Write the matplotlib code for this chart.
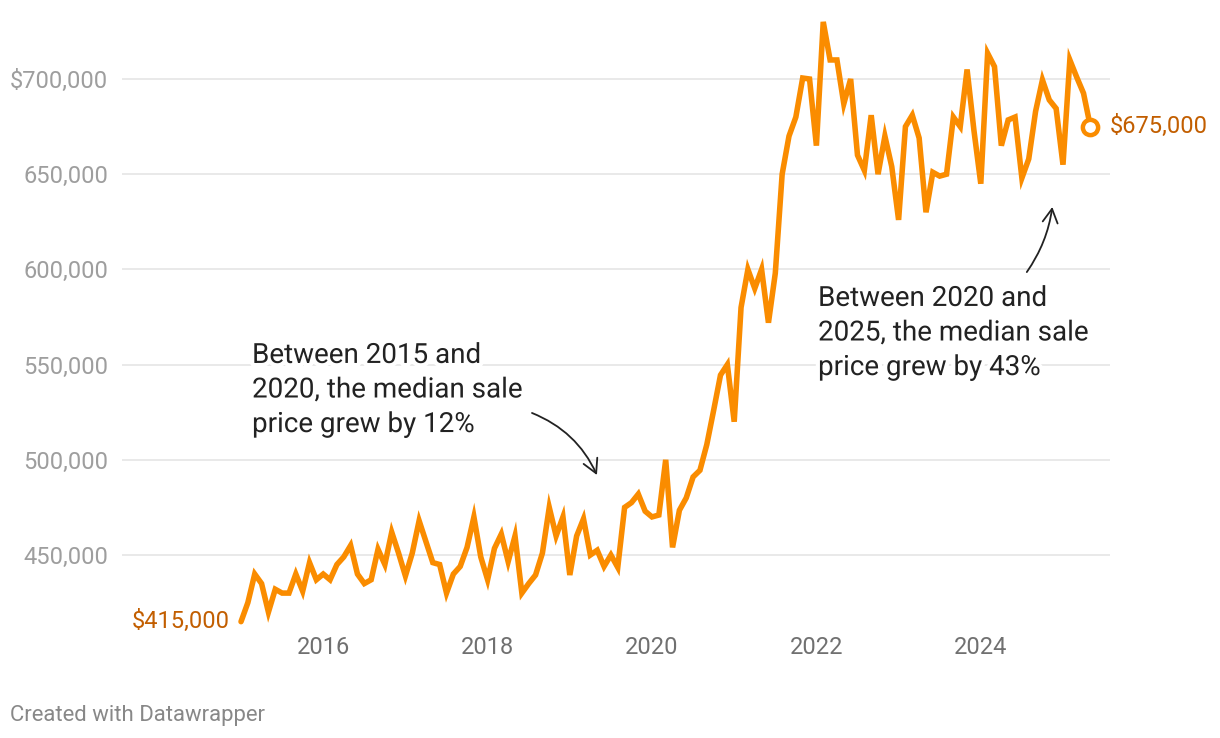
import matplotlib
matplotlib.use("Agg")
import matplotlib.pyplot as plt
import matplotlib.patheffects as pe
import numpy as np

plt.rcParams['font.family'] = ['Roboto', 'DejaVu Sans']

# Monthly median sale price (thousands of $), Jan 2015 .. May 2025
start_year = 2015
prices_k = [
    415, 425, 440, 435, 420, 432, 430, 430, 440, 431, 446, 437,          # 2015
    440, 437, 445, 449, 455, 440, 435, 437, 453, 445, 462, 451,          # 2016
    439, 451, 468, 457, 446, 445, 430, 440, 444, 454, 470, 449,          # 2017
    437, 453.5, 461, 446.5, 460, 430, 435, 439.5, 451, 475, 460, 470,    # 2018
    439.5, 460, 469, 450, 452.5, 444, 450, 443.5, 475, 477.5, 482, 473,  # 2019
    470, 471, 500, 454, 473.5, 480, 491, 494.5, 508, 526, 544.5, 550,    # 2020
    520, 580, 600, 590, 600, 572, 598, 650, 670, 680, 700.5, 700,        # 2021
    665, 730, 710, 710, 687, 700, 660, 652, 681, 650, 670, 654,          # 2022
    626, 675, 681, 669, 630, 651, 649, 650, 680, 675, 705, 673,          # 2023
    645, 713.5, 706.5, 665, 678.5, 680, 648, 658, 683, 699.5, 689, 684.5,# 2024
    655, 710, 701, 692.5, 675,                                           # 2025
]
x_ticks = [2016, 2018, 2020, 2022, 2024]
y_ticks = [450000, 500000, 550000, 600000, 650000, 700000]
y_tick_labels = ["450,000", "500,000", "550,000", "600,000", "650,000", "$700,000"]
start_label = "$415,000"
end_label = "$675,000"
note1 = "Between 2015 and\n2020, the median sale\nprice grew by 12%"
note2 = "Between 2020 and\n2025, the median sale\nprice grew by 43%"

prices = np.array(prices_k) * 1000
x = start_year + np.arange(len(prices)) / 12.0

LINE = "#fa8c00"
LABEL = "#c25e00"

fig = plt.figure(figsize=(12.2, 7.38), dpi=100)
ax = fig.add_axes([122 / 1220, 1 - 632 / 738, (1110 - 122) / 1220, (632 - 10) / 738])

ax.plot(x, prices, color=LINE, lw=4.0, solid_joinstyle='miter', solid_capstyle='round', zorder=3)
ax.plot(x[-1], prices[-1], 'o', ms=11, mfc='white', mec=LINE, mew=3.2, zorder=4)

ax.set_xlim(2013.552, 2025.572)
ax.set_ylim(700000 - (632 - 79) * 525.2, 700000 + (79 - 10) * 525.2)

ax.set_yticks(y_ticks)
ax.set_yticklabels(y_tick_labels)
ax.set_xticks(x_ticks)
ax.set_xticklabels([str(t) for t in x_ticks])
ax.tick_params(axis='y', length=0, pad=10, labelsize=17, labelcolor="#9e9e9e")
ax.tick_params(axis='x', length=0, pad=3, labelsize=17, labelcolor="#707070")
ax.grid(axis='y', color="#e3e3e3", lw=1.1, zorder=0)
for s in ax.spines.values():
    s.set_visible(False)

ax.annotate(start_label, (x[0], prices[0]), xytext=(-8, 0), textcoords='offset points',
            ha='right', va='center', fontsize=17, color=LABEL)
ax.annotate(end_label, (x[-1], prices[-1]), xytext=(14, 0), textcoords='offset points',
            ha='left', va='center', fontsize=17, color=LABEL)

halo = [pe.withStroke(linewidth=6, foreground='white')]
ax.text(2015.134, 700000 - (390 - 79) * 525.2, note1, ha='left', va='center', fontsize=20,
        color="#222222", linespacing=1.36, path_effects=halo, zorder=5)
ax.text(2022.02, 700000 - (333 - 79) * 525.2, note2, ha='left', va='center', fontsize=20,
        color="#222222", linespacing=1.36, path_effects=halo, zorder=5)

ax.annotate("", xy=(2019.33, 492000), xytext=(2018.54, 524600),
            arrowprops=dict(arrowstyle='->,head_length=0.55,head_width=0.3', color="#222222",
                            lw=1.3, connectionstyle='arc3,rad=-0.2', shrinkA=0, shrinkB=0,
                            mutation_scale=18))
ax.annotate("", xy=(2024.87, 632800), xytext=(2024.56, 598600),
            arrowprops=dict(arrowstyle='->,head_length=0.55,head_width=0.3', color="#222222",
                            lw=1.3, connectionstyle='arc3,rad=0.12', shrinkA=0, shrinkB=0,
                            mutation_scale=18))

fig.text(10 / 1220, 1 - 715 / 738, "Created with Datawrapper", ha='left', va='center',
         fontsize=15.9, color="#888888")

fig.savefig("out.png", dpi=100)
